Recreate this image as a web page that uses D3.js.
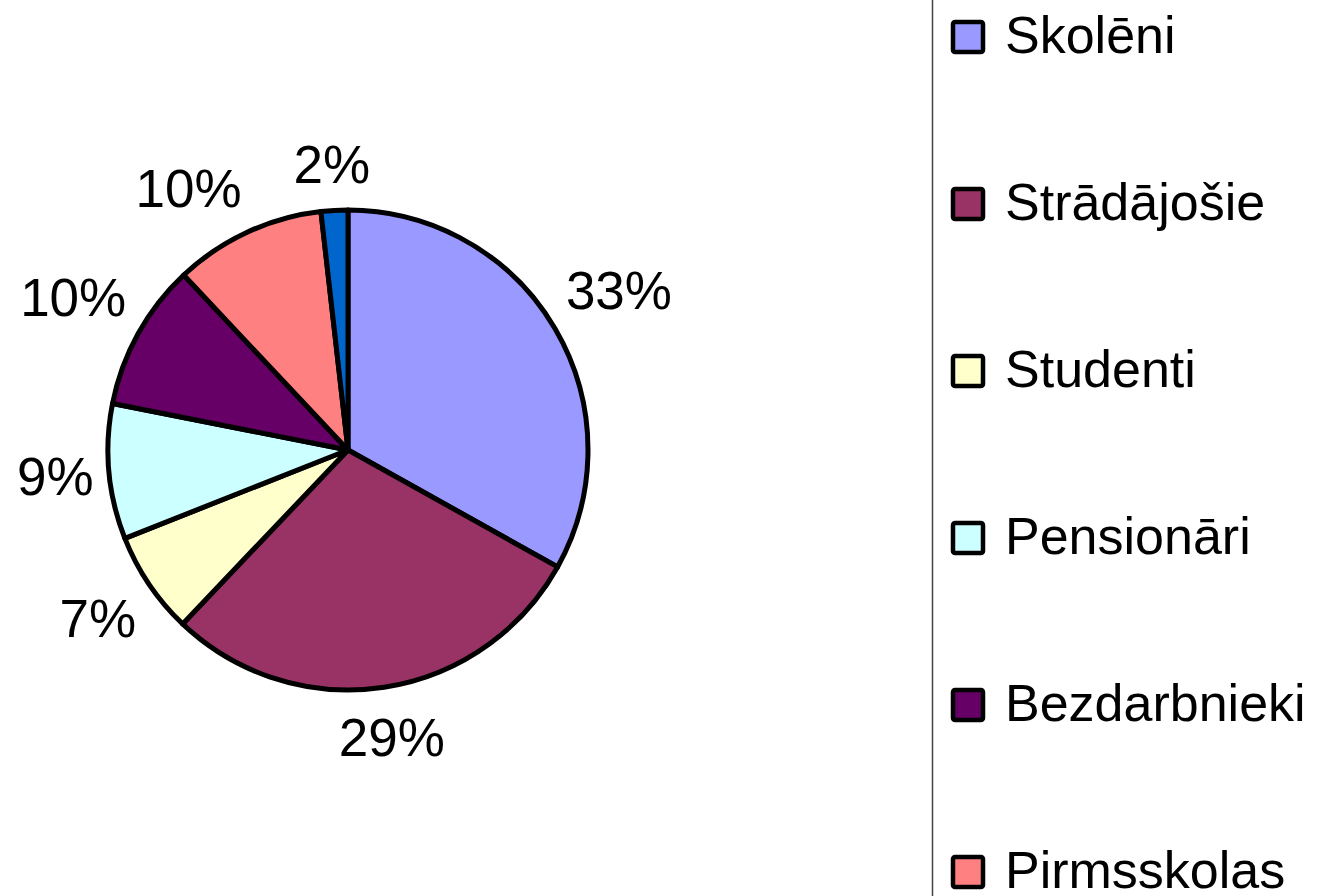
<!DOCTYPE html>
<html lang="lv">
<head>
<meta charset="utf-8">
<title>Pie</title>
<script src="https://d3js.org/d3.v7.min.js"></script>
<style>
  body { margin: 0; background: #fff; }
  text { font-family: "Liberation Sans", Arial, sans-serif; fill: #000; }
</style>
</head>
<body>
<svg width="1324" height="896"></svg>
<script>
// data
var categories = ["Skolēni", "Strādājošie", "Studenti", "Pensionāri", "Bezdarbnieki", "Pirmsskolas", "Citi"];
var values = [33.1, 29.0, 6.9, 9.1, 9.9, 10.2, 1.8];
var colors = ["#9999ff", "#993366", "#ffffcc", "#ccffff", "#660066", "#ff8080", "#0066cc"];

var svg = d3.select("svg");
var cx = 348, cy = 450, radius = 240;
var fontSize = 53;

var data = categories.map(function(c, i) { return {name: c, value: values[i], color: colors[i]}; });
var total = d3.sum(values);

var pie = d3.pie().sort(null).value(d => d.value);
var arc = d3.arc().innerRadius(0).outerRadius(radius);
var arcs = pie(data);

var g = svg.append("g").attr("transform", `translate(${cx}, ${cy})`);

g.selectAll("path.slice")
  .data(arcs)
  .enter().append("path")
    .attr("class", "slice")
    .attr("d", arc)
    .attr("fill", d => d.data.color)
    .attr("stroke", "#000")
    .attr("stroke-width", 5)
    .attr("stroke-linejoin", "round");

// labels outside the pie: text box pushed out along its angle
var r0 = 253;
var lineH = fontSize * 1.15;
var labels = g.selectAll("text.pct")
  .data(arcs)
  .enter().append("text")
    .attr("class", "pct")
    .attr("text-anchor", "middle")
    .attr("dominant-baseline", "central")
    .style("font-size", fontSize + "px")
    .text(d => Math.round(d.data.value / total * 100) + "%");

var boxes = [];
labels.each(function(d) {
  boxes.push({node: this, a: (d.startAngle + d.endAngle) / 2, w: this.getComputedTextLength()});
});

function place(b) {
  var s = Math.sin(b.a), c = Math.cos(b.a);
  var r = r0 + Math.abs(b.w / 2 * s) + Math.abs(lineH / 2 * c);
  b.x = r * s;
  b.y = -r * c;
}
boxes.forEach(place);

// keep neighbouring labels apart by turning the earlier one back
var gap = 50;
function clash(p, q) {
  var dx = Math.abs(p.x - q.x) - (p.w + q.w) / 2;
  var dy = Math.abs(p.y - q.y) - lineH;
  return dx < gap && dy < 0;
}
for (var i = boxes.length - 2; i >= 0; i--) {
  var k = 0;
  while (clash(boxes[i], boxes[i + 1]) && k < 40) {
    boxes[i].a -= Math.PI / 360;
    place(boxes[i]);
    k++;
  }
}

boxes.forEach(function(b) {
  d3.select(b.node).attr("x", b.x).attr("y", b.y);
});

// legend
svg.append("line")
  .attr("x1", 932.5).attr("x2", 932.5)
  .attr("y1", 0).attr("y2", 896)
  .attr("stroke", "#444")
  .attr("stroke-width", 1.5);

var legendY = d3.scalePoint()
  .domain(categories)
  .range([37, 37 + 167 * (categories.length - 1)]);

var items = svg.selectAll("g.legend")
  .data(data)
  .enter().append("g")
    .attr("class", "legend")
    .attr("transform", d => `translate(953, ${legendY(d.name)})`);

items.append("rect")
  .attr("x", 0).attr("y", -15)
  .attr("width", 30).attr("height", 30)
  .attr("rx", 2)
  .attr("fill", d => d.color)
  .attr("stroke", "#000")
  .attr("stroke-width", 4.5);

items.append("text")
  .attr("x", 52)
  .attr("y", -2)
  .attr("dominant-baseline", "central")
  .style("font-size", "52px")
  .text(d => d.name);
</script>
</body>
</html>
